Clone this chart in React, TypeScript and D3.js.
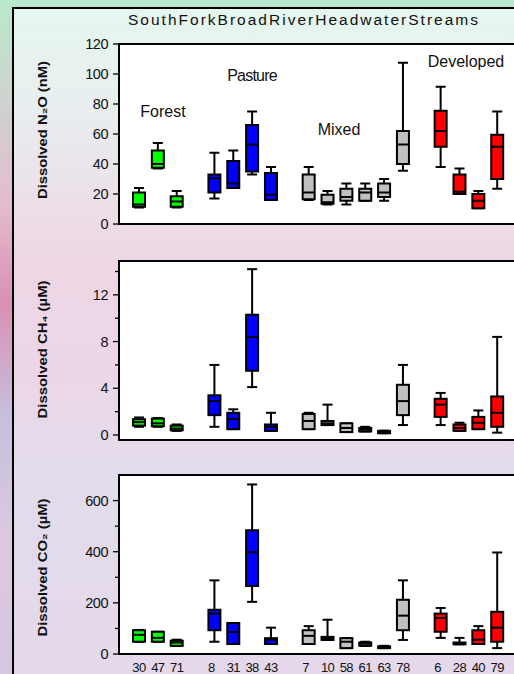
import { scaleLinear } from "d3";

const width = 514;
const height = 674;

// sites in plotting order, with their slot on the x axis (gaps between land uses)
const sites = ["30", "47", "71", "8", "31", "38", "43", "7", "10", "58", "61", "63", "78", "6", "28", "40", "79"];
const slots = [0, 1, 2, 4, 5, 6, 7, 9, 10, 11, 12, 13, 14, 16, 17, 18, 19];
const landUse = [
  "Forest", "Forest", "Forest",
  "Pasture", "Pasture", "Pasture", "Pasture",
  "Mixed", "Mixed", "Mixed", "Mixed", "Mixed", "Mixed",
  "Developed", "Developed", "Developed", "Developed",
];
const useColors: Record<string, string> = {
  Forest: "#00ff00",
  Pasture: "#0000ff",
  Mixed: "#c0c0c0",
  Developed: "#ff0000",
};

// [min, q1, median, q3, max]
const n2o = [
  [11, 11.5, 13, 21, 24],
  [37, 37.5, 40, 49, 54],
  [11, 11.5, 15, 18.5, 22],
  [17, 21, 30.5, 33, 47.5],
  [24, 24, 27, 42, 49],
  [33, 35, 53, 66, 75],
  [16, 16, 19.5, 34, 38],
  [16, 16.5, 21, 33, 38],
  [13, 13.5, 14.5, 19.5, 22],
  [13, 15.5, 18, 23.5, 27],
  [15.5, 15.5, 21, 23.5, 27],
  [15.5, 18, 21, 27, 30],
  [35.5, 40, 53, 62, 107.5],
  [38, 51.5, 62, 75.5, 91.5],
  [20, 20, 21.5, 33, 37],
  [10.5, 10.5, 15.5, 20, 22],
  [23.5, 30, 51.5, 59.5, 75],
];
const ch4 = [
  [0.7, 0.8, 1.1, 1.35, 1.5],
  [0.7, 0.75, 1.0, 1.4, 1.45],
  [0.35, 0.4, 0.55, 0.8, 0.9],
  [0.7, 1.7, 2.9, 3.4, 6.0],
  [0.5, 0.5, 1.35, 1.9, 2.2],
  [4.1, 5.5, 8.4, 10.3, 14.2],
  [0.35, 0.35, 0.7, 0.9, 1.9],
  [0.5, 0.5, 1.2, 1.8, 1.9],
  [0.85, 0.85, 1.0, 1.2, 2.6],
  [0.25, 0.25, 0.6, 1.0, 1.0],
  [0.3, 0.3, 0.45, 0.6, 0.7],
  [0.15, 0.15, 0.25, 0.35, 0.37],
  [0.85, 1.7, 2.9, 4.3, 6.0],
  [0.85, 1.55, 2.6, 3.1, 3.6],
  [0.35, 0.35, 0.6, 0.9, 1.05],
  [0.5, 0.5, 1.05, 1.55, 2.1],
  [0.2, 0.7, 1.9, 3.3, 8.4],
];
const co2 = [
  [48, 48, 75, 93, 94],
  [48, 48, 63, 87, 87],
  [32, 32, 45, 52, 56],
  [48, 93, 158, 173, 288],
  [39, 39, 86, 121, 121],
  [204, 266, 398, 484, 663],
  [39, 39, 56, 62, 103],
  [39, 39, 71, 93, 109],
  [55, 55, 62, 67, 134],
  [23, 23, 48, 62, 62],
  [32, 32, 40, 45, 48],
  [23, 23, 25, 30, 32],
  [55, 93, 150, 212, 288],
  [63, 87, 141, 158, 180],
  [38, 38, 39, 45, 63],
  [39, 39, 56, 93, 109],
  [23, 48, 103, 165, 397],
];

const n2oTicks = [0, 20, 40, 60, 80, 100, 120];
const ch4Ticks = [0, 4, 8, 12];
const ch4Minor = [2, 6, 10, 14];
const co2Ticks = [0, 200, 400, 600];
const co2Minor = [100, 300, 500];

const groupLabels = [
  { text: "Forest", x: 163, y: 117 },
  { text: "Pasture", x: 252, y: 81 },
  { text: "Mixed", x: 339, y: 135 },
  { text: "Developed", x: 466, y: 67 },
];

const panels = [
  { title: "Dissolved N₂O (nM)", data: n2o, domain: [0, 120], range: [224, 44], ticks: n2oTicks, minor: [] as number[] },
  { title: "Dissolved CH₄ (µM)", data: ch4, domain: [-0.43, 14.9], range: [440, 261], ticks: ch4Ticks, minor: ch4Minor },
  { title: "Dissolved CO₂ (µM)", data: co2, domain: [0, 700], range: [654, 475], ticks: co2Ticks, minor: co2Minor },
];

const plotLeft = 119;
const boxW = 12;
const capW = 10;
const font = "'Liberation Sans', Arial, sans-serif";

const xScale = scaleLinear().domain([0, 19]).range([139, 497.2]);

const App = () => {
  return (
    <svg
      width={width}
      height={height}
      style={{ position: "absolute", left: 0, top: 0 }}
      fontFamily={font}
    >
      <defs>
        <linearGradient id="bgOuter" x1="0" y1="0" x2="0" y2="1">
          <stop offset="0" stopColor="#b9e9cc" />
          <stop offset="0.3" stopColor="#e4bcd0" />
          <stop offset="0.45" stopColor="#da90b2" />
          <stop offset="0.62" stopColor="#c6c0de" />
          <stop offset="0.8" stopColor="#dcc8e0" />
          <stop offset="1" stopColor="#d6c6e0" />
        </linearGradient>
        <linearGradient id="bgInner" x1="0" y1="0" x2="0" y2="1">
          <stop offset="0" stopColor="#e6f6ee" />
          <stop offset="0.15" stopColor="#e8eef0" />
          <stop offset="0.38" stopColor="#eed6e4" />
          <stop offset="0.55" stopColor="#ecd6e6" />
          <stop offset="0.7" stopColor="#e2dcec" />
          <stop offset="1" stopColor="#e4d8ea" />
        </linearGradient>
      </defs>
      <rect x={0} y={0} width={width} height={height} fill="url(#bgOuter)" />
      <rect x={13} y={8} width={width - 13} height={height - 8} fill="url(#bgInner)" />
      <line x1={13} x2={13} y1={7} y2={height} stroke="#000" strokeWidth={2} />
      <line x1={12} x2={width} y1={8} y2={8} stroke="#000" strokeWidth={2} />

      <text
        x={303}
        y={25}
        fontSize={15.5}
        textAnchor="middle"
        textLength={350}
        lengthAdjust="spacing"
        fill="#111"
      >
        SouthForkBroadRiverHeadwaterStreams
      </text>

      {panels.map((p, pi) => {
        const y = scaleLinear().domain(p.domain).range(p.range);
        const top = p.range[1];
        const bottom = p.range[0];
        const mid = (top + bottom) / 2;
        return (
          <g key={pi}>
            <rect
              x={plotLeft}
              y={top}
              width={width}
              height={bottom - top}
              fill="#fff"
              stroke="#000"
              strokeWidth={2}
            />
            {p.ticks.map((t) => (
              <g key={t}>
                <line x1={113} x2={plotLeft} y1={y(t)} y2={y(t)} stroke="#000" strokeWidth={1.3} />
                <text x={108} y={y(t)} dy="0.35em" fontSize={14.5} textAnchor="end" letterSpacing={-0.5} fill="#111">
                  {t}
                </text>
              </g>
            ))}
            {p.minor.map((t) => (
              <line key={t} x1={115} x2={plotLeft} y1={y(t)} y2={y(t)} stroke="#000" strokeWidth={1.3} />
            ))}
            <text
              transform={`translate(47,${mid + (pi === 0 ? -4 : pi === 1 ? -1 : 3)}) rotate(-90)`}
              fontSize={13}
              fontWeight="bold"
              textAnchor="middle"
              textLength={138}
              lengthAdjust="spacingAndGlyphs"
              fill="#111"
            >
              {p.title}
            </text>
            {p.data.map((d, i) => {
              const cx = xScale(slots[i]);
              const [mn, q1, md, q3, mx] = d;
              return (
                <g key={sites[i]}>
                  <line x1={cx} x2={cx} y1={y(mx)} y2={y(q3)} stroke="#000" strokeWidth={2} />
                  <line x1={cx} x2={cx} y1={y(q1)} y2={y(mn)} stroke="#000" strokeWidth={2} />
                  <line x1={cx - capW / 2} x2={cx + capW / 2} y1={y(mx)} y2={y(mx)} stroke="#000" strokeWidth={2} />
                  <line x1={cx - capW / 2} x2={cx + capW / 2} y1={y(mn)} y2={y(mn)} stroke="#000" strokeWidth={2} />
                  <rect
                    x={cx - boxW / 2}
                    y={y(q3)}
                    width={boxW}
                    height={Math.max(y(q1) - y(q3), 1)}
                    fill={useColors[landUse[i]]}
                    stroke="#000"
                    strokeWidth={2}
                  />
                  <line x1={cx - boxW / 2} x2={cx + boxW / 2} y1={y(md)} y2={y(md)} stroke="#000" strokeWidth={2} />
                </g>
              );
            })}
          </g>
        );
      })}

      {groupLabels.map((g) => (
        <text
          key={g.text}
          x={g.x}
          y={g.y}
          fontSize={16}
          textAnchor="middle"
          letterSpacing={g.text === "Pasture" ? -0.8 : 0}
          fill="#111"
        >
          {g.text}
        </text>
      ))}

      {sites.map((s, i) => (
        <text
          key={s}
          x={xScale(slots[i]) - (s.length === 1 ? 3 : 0)}
          y={672}
          fontSize={13}
          textAnchor="middle"
          letterSpacing={-0.6}
          fill="#111"
        >
          {s}
        </text>
      ))}
    </svg>
  );
};

export default App;
